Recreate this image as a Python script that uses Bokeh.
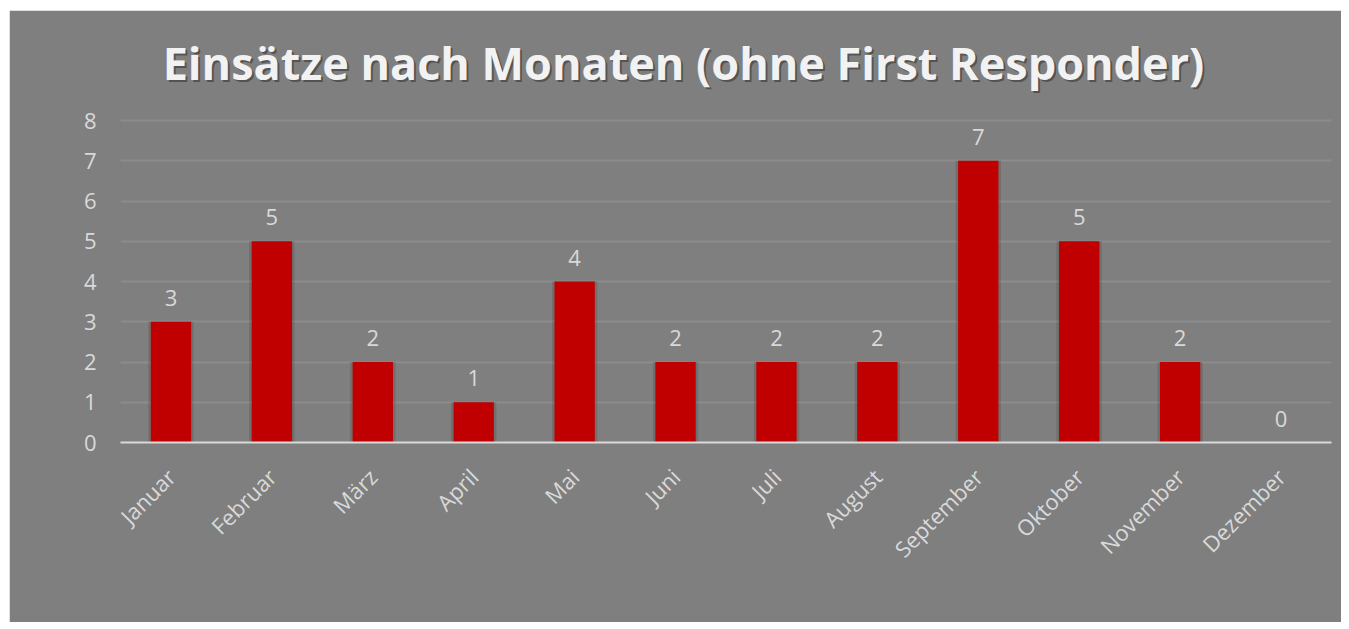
import math
from bokeh.plotting import figure
from bokeh.models import (ColumnDataSource, FactorRange, Range1d, Label, LabelSet,
                          FixedTicker, Spacer)
from bokeh.layouts import column, row
from bokeh.embed import file_html
from bokeh.resources import INLINE
from bokeh.core.properties import value

months = ["Januar", "Februar", "März", "April", "Mai", "Juni", "Juli",
          "August", "September", "Oktober", "November", "Dezember"]
counts = [3, 5, 2, 1, 4, 2, 2, 2, 7, 5, 2, 0]
y_ticks = [0, 1, 2, 3, 4, 5, 6, 7, 8]
title_text = "Einsätze nach Monaten (ohne First Responder)"

BG = "#7f7f7f"
TXT = "#d9d9d9"
FONT = "Open Sans"
W, H = 1332, 612
ML, MR, MT, MB = 111, 10, 20, 180
FRAME_H = H - MT - MB            # 412 px
UNIT = 322 / 8                   # px per count (0..8 spans 322 px)
Y_END = FRAME_H / UNIT

src = ColumnDataSource(dict(m=months, c=counts, lbl=[str(v) for v in counts]))

p = figure(x_range=FactorRange(*months), y_range=Range1d(0, Y_END),
           width=W, height=H, output_backend="svg", toolbar_location=None,
           min_border_left=ML, min_border_right=MR, min_border_top=MT,
           min_border_bottom=MB)
p.background_fill_color = BG
p.border_fill_color = BG
p.outline_line_color = BG
p.outline_line_width = 2

# soft bar shadow
p.vbar(x="m", top="c", width=0.45, source=src,
       fill_color="black", fill_alpha=0.12, line_color=None)
p.vbar(x="m", top="c", width=0.4, source=src, fill_color="#c00000", line_color=None)

labels = LabelSet(x="m", y="c", text="lbl", source=src, text_align="center",
                  text_baseline="bottom", y_offset=16, text_color=TXT,
                  text_font=value(FONT), text_font_size="22px")
p.add_layout(labels)

p.yaxis.ticker = FixedTicker(ticks=y_ticks)
p.yaxis.axis_line_color = None
p.yaxis.major_tick_line_color = None
p.yaxis.minor_tick_line_color = None
p.yaxis.major_label_text_color = TXT
p.yaxis.major_label_text_font = FONT
p.yaxis.major_label_text_font_size = "22px"
p.yaxis.major_label_standoff = 18

p.xaxis.axis_line_color = TXT
p.xaxis.axis_line_width = 2
p.xaxis.major_tick_line_color = None
p.xaxis.minor_tick_line_color = None
p.xaxis.major_label_orientation = math.pi / 4
p.xaxis.major_label_text_color = TXT
p.xaxis.major_label_text_font = FONT
p.xaxis.major_label_text_font_size = "22px"
p.xaxis.major_label_standoff = 24

p.xgrid.grid_line_color = None
p.ygrid.grid_line_color = "#8c8c8c"
p.ygrid.grid_line_width = 2

# screen units are relative to the plot frame (bottom-left, y up)
tx = 674 - ML
ty = FRAME_H - (52 - MT)
shadow = Label(x=tx, y=ty, x_units="screen", y_units="screen",
               text=title_text, text_align="center", text_baseline="middle",
               text_color="black", text_alpha=0.35, text_font=FONT,
               text_font_style="bold", text_font_size="45px", x_offset=2, y_offset=-2)
title = Label(x=tx, y=ty, x_units="screen", y_units="screen",
              text=title_text, text_align="center", text_baseline="middle",
              text_color="#f2f2f2", text_font=FONT,
              text_font_style="bold", text_font_size="45px")
p.add_layout(shadow)
p.add_layout(title)

layout = column(Spacer(height=10), row(Spacer(width=9), p))
open("out.html", "w").write(file_html(layout, INLINE))
